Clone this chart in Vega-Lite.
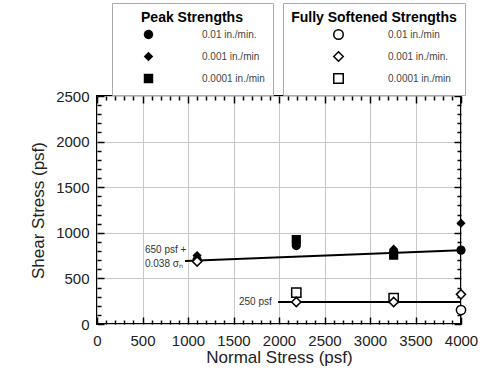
{
  "$schema": "https://vega.github.io/schema/vega-lite/v6.json",
  "width": 364,
  "height": 228,
  "autosize": {"type": "none"},
  "padding": {"left": 97, "top": 96, "right": 39, "bottom": 51},
  "background": "white",
  "config": {
    "font": "Liberation Sans",
    "view": {"stroke": "black", "strokeWidth": 2},
    "axis": {"labelColor": "#222", "titleColor": "#222", "titleFontWeight": "normal", "tickColor": "black", "domain": false}
  },
  "datasets": {
    "pts": [
      {"sn": 1100, "tau": 750, "type": "Peak", "rate": "0.001 in./min"},
      {"sn": 1100, "tau": 705, "type": "Peak", "rate": "0.01 in./min."},
      {"sn": 2190, "tau": 925, "type": "Peak", "rate": "0.0001 in./min"},
      {"sn": 2190, "tau": 890, "type": "Peak", "rate": "0.001 in./min"},
      {"sn": 2190, "tau": 860, "type": "Peak", "rate": "0.01 in./min."},
      {"sn": 3260, "tau": 820, "type": "Peak", "rate": "0.001 in./min"},
      {"sn": 3260, "tau": 790, "type": "Peak", "rate": "0.01 in./min."},
      {"sn": 3260, "tau": 755, "type": "Peak", "rate": "0.0001 in./min"},
      {"sn": 4000, "tau": 1105, "type": "Peak", "rate": "0.001 in./min"},
      {"sn": 4000, "tau": 810, "type": "Peak", "rate": "0.01 in./min."},
      {"sn": 1100, "tau": 685, "type": "Soft", "rate": "0.001 in./min."},
      {"sn": 2190, "tau": 345, "type": "Soft", "rate": "0.0001 in./min"},
      {"sn": 2190, "tau": 241, "type": "Soft", "rate": "0.001 in./min."},
      {"sn": 3260, "tau": 285, "type": "Soft", "rate": "0.0001 in./min"},
      {"sn": 3260, "tau": 241, "type": "Soft", "rate": "0.001 in./min."},
      {"sn": 4000, "tau": 325, "type": "Soft", "rate": "0.001 in./min."},
      {"sn": 4000, "tau": 153, "type": "Soft", "rate": "0.01 in./min"}
    ],
    "lines": [
      {"sn": 967, "tau": 690, "fit": "peak"},
      {"sn": 4000, "tau": 808, "fit": "peak"},
      {"sn": 1990, "tau": 242, "fit": "soft"},
      {"sn": 4000, "tau": 242, "fit": "soft"}
    ],
    "notes": [
      {"sn": 527, "tau": 811, "label": "650 psf +"},
      {"sn": 527, "tau": 658, "label": "0.038 σₙ"},
      {"sn": 1560, "tau": 241, "label": "250 psf"}
    ]
  },
  "layer": [
    {
      "data": {"name": "lines"},
      "mark": {"type": "line", "color": "black", "strokeWidth": 2},
      "encoding": {
        "x": {"field": "sn", "type": "quantitative", "scale": {"domain": [0, 4000], "nice": false},
          "axis": {"orient": "bottom", "values": [0, 500, 1000, 1500, 2000, 2500, 3000, 3500, 4000], "format": "d", "grid": true, "gridColor": "#c8c8c8", "gridWidth": 1, "tickSize": -7, "tickWidth": 1.5, "labelFontSize": 15, "labelPadding": 16, "labelFlush": false, "title": "Normal Stress (psf)", "titleFontSize": 17, "titlePadding": 1}},
        "y": {"field": "tau", "type": "quantitative", "scale": {"domain": [0, 2500], "nice": false},
          "axis": {"orient": "left", "values": [0, 500, 1000, 1500, 2000, 2500], "format": "d", "grid": true, "gridColor": "#c8c8c8", "gridWidth": 1, "tickSize": -7, "tickWidth": 1.5, "labelFontSize": 15, "labelPadding": 15, "labelFlush": false, "title": "Shear Stress (psf)", "titleFontSize": 17, "titlePadding": 8}},
        "detail": {"field": "fit"}
      }
    },
    {
      "data": {"name": "pts"},
      "transform": [{"filter": "datum.type === 'Peak'"}],
      "mark": {"type": "point", "filled": true, "color": "black", "opacity": 1, "size": 85},
      "encoding": {
        "x": {"field": "sn", "type": "quantitative",
          "axis": {"orient": "top", "values": [0, 500, 1000, 1500, 2000, 2500, 3000, 3500, 4000], "grid": false, "tickSize": -7, "tickWidth": 1.5, "labels": false, "title": null}},
        "y": {"field": "tau", "type": "quantitative",
          "axis": {"orient": "right", "values": [0, 500, 1000, 1500, 2000, 2500], "grid": false, "tickSize": -7, "tickWidth": 1.5, "labels": false, "title": null}},
        "shape": {"field": "rate", "type": "nominal",
          "scale": {"domain": ["0.01 in./min.", "0.001 in./min", "0.0001 in./min"], "range": ["circle", "diamond", "square"]},
          "legend": {"title": "Peak Strengths", "orient": "none", "legendX": 15, "legendY": -93, "titleFontSize": 14, "titleFontWeight": "bold", "titleColor": "black", "titleAnchor": "middle", "titlePadding": 4, "padding": 8, "strokeColor": "#aaa", "fillColor": "white", "symbolOffset": 23, "labelOffset": 48, "labelFontSize": 10, "labelColor": "#444", "symbolSize": 90, "symbolFillColor": "black", "symbolStrokeColor": "black", "rowPadding": 5}}
      }
    },
    {
      "data": {"name": "pts"},
      "transform": [{"filter": "datum.type === 'Soft'"}],
      "mark": {"type": "point", "filled": false, "color": "black", "fill": "white", "opacity": 1, "strokeWidth": 1.5, "size": 85},
      "encoding": {
        "x": {"field": "sn", "type": "quantitative",
          "axis": {"orient": "bottom", "values": [100, 200, 300, 400, 600, 700, 800, 900, 1100, 1200, 1300, 1400, 1600, 1700, 1800, 1900, 2100, 2200, 2300, 2400, 2600, 2700, 2800, 2900, 3100, 3200, 3300, 3400, 3600, 3700, 3800, 3900], "grid": false, "tickSize": -4, "tickWidth": 1.5, "labels": false, "title": null}},
        "y": {"field": "tau", "type": "quantitative",
          "axis": {"orient": "left", "values": [100, 200, 300, 400, 600, 700, 800, 900, 1100, 1200, 1300, 1400, 1600, 1700, 1800, 1900, 2100, 2200, 2300, 2400], "grid": false, "tickSize": -4, "tickWidth": 1.5, "labels": false, "title": null}},
        "shape": {"field": "rate", "type": "nominal",
          "scale": {"domain": ["0.01 in./min", "0.001 in./min.", "0.0001 in./min"], "range": ["circle", "diamond", "square"]},
          "legend": {"title": "Fully Softened Strengths", "orient": "none", "legendX": 186, "legendY": -93, "titleFontSize": 14, "titleFontWeight": "bold", "titleColor": "black", "titleAnchor": "middle", "titlePadding": 4, "padding": 8, "strokeColor": "#aaa", "fillColor": "white", "symbolOffset": 36, "labelOffset": 44, "labelFontSize": 10, "labelColor": "#444", "symbolSize": 90, "rowPadding": 5,
            "encode": {"symbols": {"update": {"stroke": {"value": "black"}, "fill": {"value": "white"}, "strokeWidth": {"value": 1.5}, "opacity": {"value": 1}}}}}}
      }
    },
    {
      "data": {"name": "notes"},
      "mark": {"type": "text", "align": "left", "baseline": "middle", "fontSize": 10, "color": "#333"},
      "encoding": {
        "x": {"field": "sn", "type": "quantitative",
          "axis": {"orient": "top", "values": [100, 200, 300, 400, 600, 700, 800, 900, 1100, 1200, 1300, 1400, 1600, 1700, 1800, 1900, 2100, 2200, 2300, 2400, 2600, 2700, 2800, 2900, 3100, 3200, 3300, 3400, 3600, 3700, 3800, 3900], "grid": false, "tickSize": -4, "tickWidth": 1.5, "labels": false, "title": null}},
        "y": {"field": "tau", "type": "quantitative",
          "axis": {"orient": "right", "values": [100, 200, 300, 400, 600, 700, 800, 900, 1100, 1200, 1300, 1400, 1600, 1700, 1800, 1900, 2100, 2200, 2300, 2400], "grid": false, "tickSize": -4, "tickWidth": 1.5, "labels": false, "title": null}},
        "text": {"field": "label"}
      }
    }
  ],
  "resolve": {"axis": {"x": "independent", "y": "independent"}, "scale": {"shape": "independent"}}
}
